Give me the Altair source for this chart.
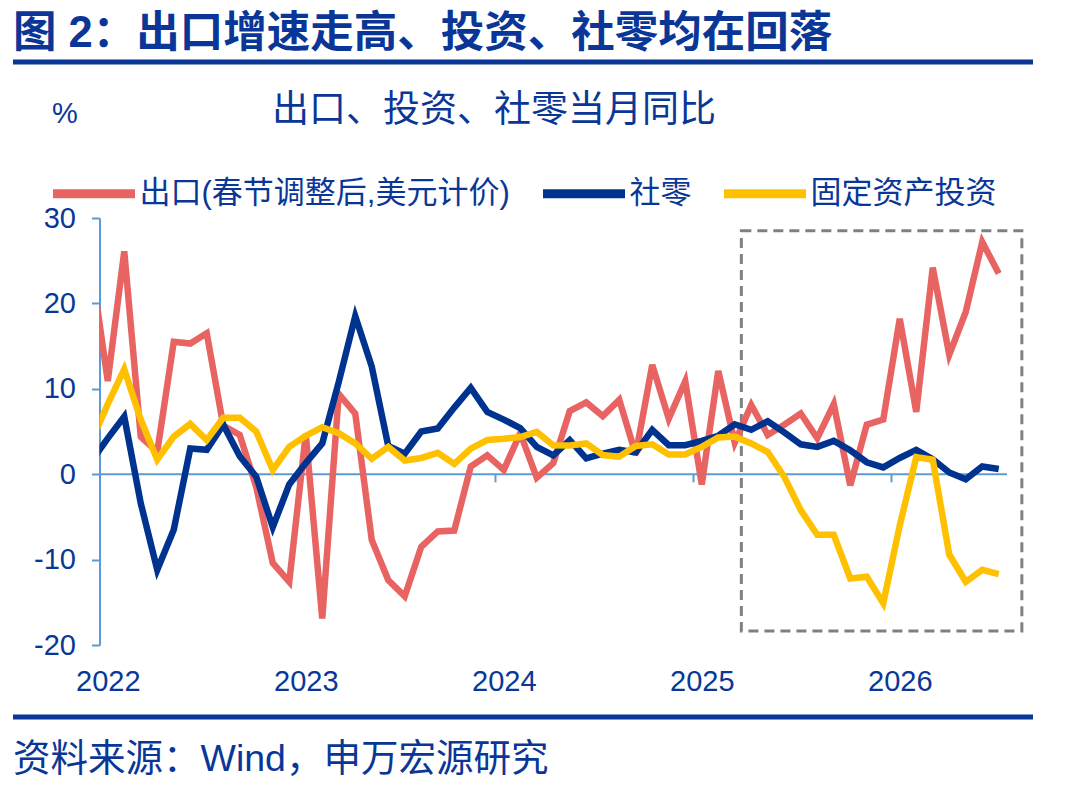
import altair as alt
import pandas as pd

# ---- data (month index: 0 = Jan 2022) ----
months = list(range(-1, 55))

export = [24.5, 10.9, 26.1, 4.4, 2.6, 15.5, 15.3, 16.5, 5.7, 4.6,
          -1.5, -10.4, -12.6, 4.7, -16.9, 9.4, 7.1, -7.7, -12.4, -14.3,
          -8.5, -6.7, -6.6, 0.9, 2.2, 0.5, 4.8, -0.4, 1.3, 7.4,
          8.4, 6.8, 8.7, 2.3, 12.8, 6.5, 10.9, -1.2, 12.1, 3.7,
          8.1, 4.6, 5.8, 7.1, 4.2, 8.2, -1.3, 5.8, 6.4, 18.2,
          7.3, 24.2, 14.0, 19.0, 27.2, 23.5]

retail = [1.5, 4.2, 6.75, -3.4, -11.2, -6.5, 3.0, 2.85, 5.8, 2.1,
          -0.3, -6.2, -1.2, 1.3, 3.6, 10.8, 18.5, 12.6, 3.3, 2.4,
          5.0, 5.35, 7.8, 10.1, 7.3, 6.4, 5.4, 3.2, 2.2, 4.0,
          1.85, 2.4, 2.85, 2.55, 5.2, 3.4, 3.4, 3.9, 4.5, 5.85,
          5.2, 6.2, 4.9, 3.5, 3.2, 3.9, 2.8, 1.4, 0.8, 1.9,
          2.85, 1.75, 0.2, -0.6, 0.9, 0.6]

fai = [3.8, 8.2, 12.3, 6.4, 1.7, 4.4, 5.9, 4.0, 6.6, 6.6,
       5.0, 0.5, 3.2, 4.5, 5.5, 4.8, 3.6, 1.8, 3.2, 1.6,
       1.9, 2.5, 1.2, 3.0, 4.0, 4.15, 4.35, 4.95, 3.4, 3.35,
       3.6, 2.25, 2.05, 3.3, 3.5, 2.3, 2.3, 3.2, 4.3, 4.4,
       3.6, 2.6, -0.3, -4.2, -7.1, -7.1, -12.2, -12.0, -15.1, -6.0,
       2.0, 1.7, -9.4, -12.6, -11.2, -11.7]

series_names = ["出口(春节调整后,美元计价)", "社零", "固定资产投资"]
series_colors = ["#E86463", "#00338F", "#FFC000"]

year_label_months = [0, 12, 24, 36, 48]
year_boundaries = [11.5, 23.5, 35.5, 47.5]
y_ticks = [-20, -10, 0, 10, 20, 30]

# highlighted window (data units)
box_x = [38.4, 55.4]
box_y = [-18.35, 28.5]

NAVY = "#0A3797"
LIGHT = "#5B9BD5"
CJK = "Liberation Sans, Noto Sans CJK SC, sans-serif"

rows = []
for name, vals in zip(series_names, [export, retail, fai]):
    for m, v in zip(months, vals):
        rows.append({"t": m, "v": v, "series": name})
df = pd.DataFrame(rows)

one = alt.Data(values=[{}])

x_scale = alt.Scale(domain=[-0.5, 54.5], nice=False, zero=False)
y_scale = alt.Scale(domain=[-20, 30], nice=False, zero=False)

lines = alt.Chart(df).mark_line(strokeWidth=6.5, clip=True).encode(
    x=alt.X("t:Q", scale=x_scale,
            axis=alt.Axis(values=year_label_months, title=None, domain=False,
                          ticks=False, grid=False, labelPadding=22,
                          labelExpr="'' + (2022 + datum.value / 12)",
                          labelFontSize=29, labelColor=NAVY, labelFont=CJK,
                          labelFlush=False)),
    y=alt.Y("v:Q", scale=y_scale,
            axis=alt.Axis(values=y_ticks, title=None, grid=False,
                          domainColor=LIGHT, domainWidth=2, tickColor=LIGHT,
                          tickWidth=2, tickSize=8, labelPadding=16,
                          labelExpr="'' + datum.value",
                          labelFontSize=29, labelColor=NAVY, labelFont=CJK)),
    color=alt.Color("series:N",
                    scale=alt.Scale(domain=series_names, range=series_colors),
                    sort=series_names,
                    legend=alt.Legend(orient="none", legendX=-51, legendY=-70,
                                      direction="horizontal", title=None,
                                      symbolType="stroke", symbolSize=6724,
                                      symbolStrokeWidth=9, labelFontSize=31,
                                      labelFont=CJK, labelColor=NAVY,
                                      labelOffset=0, columnPadding=14,
                                      padding=0, labelLimit=0)),
    order=alt.Order("t:Q"),
)

zero_line = alt.Chart(one).mark_rule(color=LIGHT, strokeWidth=2).encode(
    y=alt.datum(0)
)

year_ticks = alt.Chart(pd.DataFrame({"b": year_boundaries})).mark_rule(
    color=LIGHT, strokeWidth=2
).encode(
    x=alt.X("b:Q", title=None),
    y=alt.datum(0),
    y2=alt.datum(-0.95),
)

box = alt.Chart(one).mark_rect(
    fillOpacity=0, stroke="#808080", strokeWidth=3, strokeDash=[10, 6]
).encode(
    x=alt.datum(box_x[0]), x2=alt.datum(box_x[1]),
    y=alt.datum(box_y[1]), y2=alt.datum(box_y[0]),
)


def txt(text, x, y, size, weight="normal", align="left"):
    return alt.Chart(one).mark_text(
        text=text, align=align, baseline="middle", fontSize=size,
        fontWeight=weight, font=CJK, color=NAVY
    ).encode(x=alt.value(x), y=alt.value(y))


def hline(x1, x2, y, w):
    return alt.Chart(one).mark_rule(color="#0A3797", strokeWidth=w).encode(
        x=alt.value(x1), x2=alt.value(x2), y=alt.value(y)
    )


title = txt("图 2：出口增速走高、投资、社零均在回落", -86.5, -184, 43.5, weight="bold")
title_line = hline(-86.5, 933.5, -156, 5)
subtitle = txt("出口、投资、社零当月同比", 394.5, -107, 37, align="center")
pct = txt("%", -34.5, -104, 29, align="center")
bottom_line = hline(-86.5, 933.5, 499, 5)
source = txt("资料来源：Wind，申万宏源研究", -86.5, 542, 37.5)

chart = alt.layer(
    box, zero_line, year_ticks, lines,
    title, title_line, subtitle, pct, bottom_line, source,
).properties(
    width=907.5, height=427,
    autosize=alt.AutoSizeParams(type="none"),
    padding={"left": 91.5, "top": 210, "right": 65, "bottom": 135},
    background="white",
).configure_view(stroke=None)

chart.save("out.html", embed_options={"renderer": "svg", "actions": False})
